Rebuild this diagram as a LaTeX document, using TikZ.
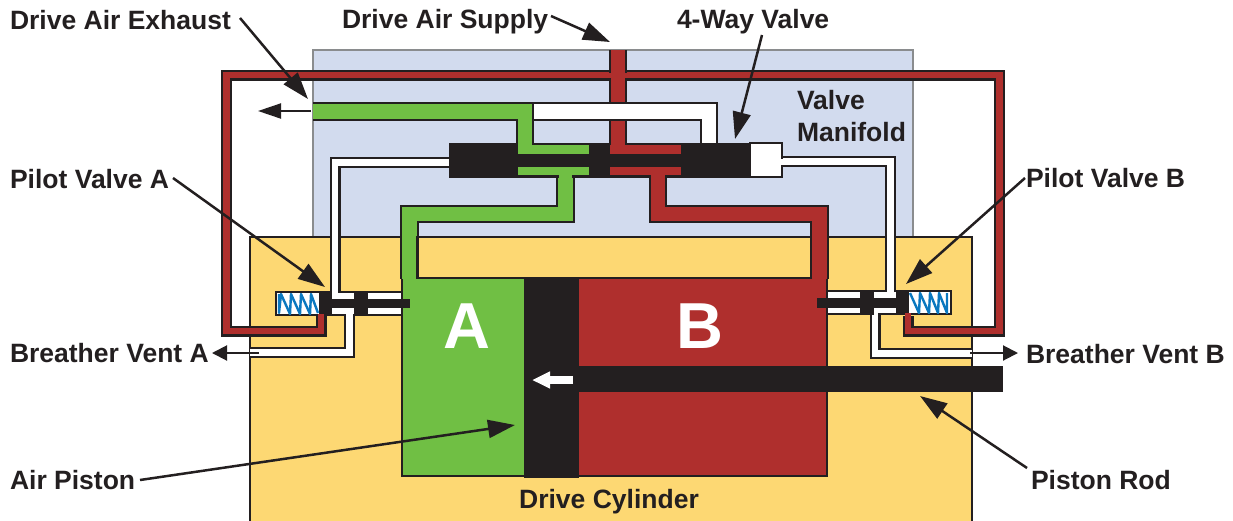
\documentclass[tikz,border=0pt]{standalone}
\usepackage{fontspec}
\setmainfont{Liberation Sans}[Scale=1]
\usetikzlibrary{arrows.meta}
\definecolor{ink}{HTML}{231F20}
\definecolor{manif}{HTML}{D2DBEE}
\definecolor{manifedge}{HTML}{8A8C8E}
\definecolor{yell}{HTML}{FDD873}
\definecolor{grn}{HTML}{70BF44}
\definecolor{rd}{HTML}{AF2F2D}
\definecolor{spr}{HTML}{0A78BF}
\tikzset{
  x=1pt,y=-1pt,
  lab/.style={font=\fontsize{26.5}{26.5}\selectfont\bfseries,text=ink,inner sep=0pt,outer sep=0pt,anchor=base west},
  big/.style={font=\fontsize{65}{65}\selectfont\bfseries,text=white,inner sep=0pt},
  leader/.style={draw=ink,line width=2.5pt,-{Triangle[length=27pt,width=18pt,fill=ink]}},
  exhaust arrow/.style={draw=ink,line width=2pt,-{Triangle[length=23pt,width=15pt,fill=ink]}},
  vent arrow/.style={draw=ink,line width=2pt,-{Triangle[length=15pt,width=15pt,fill=ink]}},
  shape line/.style={draw=ink,line width=2.5pt},
  blk/.style={fill=ink,draw=ink,line width=0.5pt},
  springline/.style={spr,line width=2.4pt,line join=round},
}
% \tubeline{width}{colour}{path}
\newcommand{\tubeline}[3]{%
  \draw[ink,line width=#1pt,line join=miter,line cap=butt] #3;
  \draw[#2,line width=#1pt-4.4pt,line join=miter,line cap=butt] #3;
}
\begin{document}
\begin{tikzpicture}
\useasboundingbox (0,0) rectangle (1233,520);
% manifold and block
\path[fill=manif,draw=manifedge,line width=2pt] (313,50) rectangle (913,240);
\path[fill=yell,draw=ink,line width=2.2pt] (250,237) -- (972,237) -- (972,522) -- (250,522) -- cycle;
\path[fill=manif] (417,223) rectangle (811,236);
% red loop
\tubeline{11}{rd}{(321,316) -- (321,331) -- (226.5,331) -- (226.5,75) -- (999.5,75) -- (999.5,331) -- (908,331) -- (908,316)}
% supply
\tubeline{18.5}{rd}{(618,50) -- (618,147)}
\path[fill=rd] (606,72.5) rectangle (630,77.5);
% cylinder
\path[fill=grn] (403,278) rectangle (524,476);
\path[fill=rd] (578,278) rectangle (827,476);
\draw[shape line] (402,278) -- (402,476) -- (827,476) -- (827,278);
% air lines to the cylinder
\tubeline{18.5}{grn}{(565.5,177) -- (565.5,214) -- (409.5,214) -- (409.5,279)}
\tubeline{18.5}{rd}{(658,177) -- (658,214) -- (819.5,214) -- (819.5,279)}
\path[fill=yell,draw=ink,line width=2.2pt] (417.5,237) rectangle (811,278);
\path[fill=grn] (403,276) rectangle (416.4,281);
\path[fill=rd] (812.2,276) rectangle (826,281);
% white line on top
\tubeline{18.5}{white}{(533,111.5) -- (709,111.5) -- (709,144)}
% green exhaust
\tubeline{18.5}{grn}{(313,111.5) -- (525,111.5) -- (525,147)}
% pilot lines
\tubeline{11}{white}{(450,162.5) -- (335,162.5) -- (335,294)}
\tubeline{11}{white}{(781,161.5) -- (890.5,161.5) -- (890.5,292)}
% valve body
\path[blk] (449,143) rectangle (751,177);
\path[fill=white,draw=ink,line width=2.2pt] (750,143) rectangle (782,177);
\path[fill=white] (779,158.5) rectangle (784,164.5);
\path[fill=grn] (518,145) rectangle (589,154);
\path[fill=grn] (518,167) rectangle (589,175);
\path[fill=rd] (610,145) rectangle (681,154);
\path[fill=rd] (610,167) rectangle (681,175);
\path[fill=grn] (518,140) rectangle (532,146);
\path[fill=grn] (559,174) rectangle (572,180);
\path[fill=rd] (611,140) rectangle (625,146);
\path[fill=rd] (651,174) rectangle (665,180);
\path[fill=white] (702,139) rectangle (716,143);
% left pilot valve
\tubeline{11}{white}{(349.5,314) -- (349.5,352.5) -- (250,352.5)}
\path[fill=white,draw=ink,line width=2.2pt] (276,292) rectangle (320,315);
\path[fill=white,draw=ink,line width=2.2pt] (320,292) rectangle (402,315);
\path[fill=white] (332,290) rectangle (338,296);
\path[fill=white] (346,312) rectangle (353,317);
\path[blk] (320,292) rectangle (331,315);
\path[blk] (331,299) rectangle (409,307);
\path[blk] (354,292) rectangle (367,315);
\path[fill=rd] (318,314) rectangle (324,317);
\draw[springline] (279,294) -- (279,313) -- (281,294) -- (290,314) -- (291,294) -- (300,314) -- (301,294) -- (310,314) -- (311,294) -- (318,313);
% right pilot valve
\tubeline{11}{white}{(875,314) -- (875,353.5) -- (972,353.5)}
\path[fill=white,draw=ink,line width=2.2pt] (908,291) rectangle (951,314);
\path[fill=white,draw=ink,line width=2.2pt] (827,291) rectangle (908,314);
\path[fill=white] (887,289) rectangle (894,295);
\path[fill=white] (872,312) rectangle (878,316);
\path[blk] (896,291) rectangle (908,314);
\path[blk] (817,298) rectangle (896,307);
\path[blk] (860,291) rectangle (873,314);
\path[fill=rd] (905,313) rectangle (911,317);
\draw[springline] (910,293) -- (919,313) -- (920,293) -- (929,313) -- (930,293) -- (938,313) -- (939,293) -- (947,313) -- (947,293);
% piston and rod
\path[blk] (524,278) rectangle (578,477);
\path[blk] (578,366) rectangle (1002,391);
\draw[white,line width=8.5pt,-{Triangle[length=18pt,width=16pt]}] (573,380) -- (532,380);
% labels
\node[lab] (exh) at (10,29) {Drive Air Exhaust};
\node[lab] (sup) at (342,28) {Drive Air Supply};
\node[lab] (way) at (677,28) {4-Way Valve};
\node[lab] (val) at (797,109) {Valve};
\node[lab] (man) at (797,141) {Manifold};
\node[lab] (pva) at (10,188) {Pilot Valve A};
\node[lab] (pvb) at (1026,187) {Pilot Valve B};
\node[lab] (bva) at (10,362) {Breather Vent A};
\node[lab] (bvb) at (1026,363) {Breather Vent B};
\node[lab] (air) at (10,489) {Air Piston};
\node[lab] (rod) at (1031,489) {Piston Rod};
\node[lab,anchor=base] (cyl) at (609,508) {Drive Cylinder};
\node[big] (ca) at (467,326) {A};
\node[big] (cb) at (700,326) {B};
% leader ends
\coordinate (t1) at (308,99);
\coordinate (s1) at (240,18);
\coordinate (t2) at (610,42);
\coordinate (s2) at (551,16);
\coordinate (t3) at (735,139);
\coordinate (s3) at (762,35);
\coordinate (t4) at (325,287);
\coordinate (s4) at (173,178);
\coordinate (t5) at (906,284);
\coordinate (s5) at (1025,178);
\coordinate (t6) at (515,425);
\coordinate (s6) at (140,480);
\coordinate (t7) at (920,396);
\coordinate (s7) at (1027,468);
\coordinate (e1) at (311,111);
\coordinate (e2) at (258,111);
\coordinate (e3) at (259,353);
\coordinate (e4) at (212,353);
\coordinate (e5) at (970,353);
\coordinate (e6) at (1018,353);
\foreach \a/\b in {s1/t1,s2/t2,s3/t3,s4/t4,s5/t5,s6/t6,s7/t7}
  \draw[leader] (\a) -- (\b);
\draw[exhaust arrow] (e1) -- (e2);
\draw[vent arrow] (e3) -- (e4);
\draw[vent arrow] (e5) -- (e6);
\end{tikzpicture}
\end{document}
